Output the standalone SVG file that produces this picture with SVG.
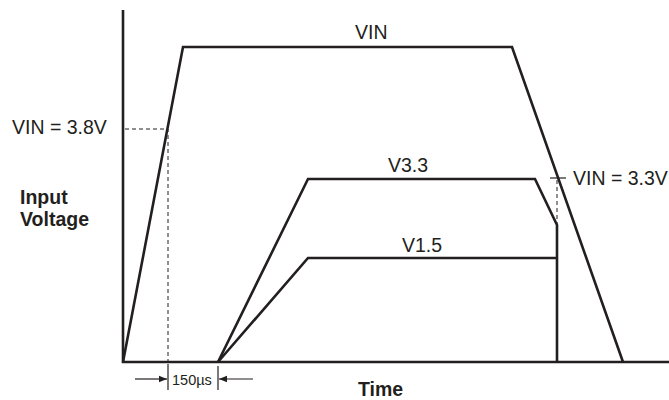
<svg xmlns="http://www.w3.org/2000/svg" width="669" height="400" viewBox="0 0 669 400">
<defs>
<style>
.ln{fill:none;stroke:#231f20;stroke-width:2.6;stroke-linejoin:miter}
.ds{fill:none;stroke:#231f20;stroke-width:1;stroke-dasharray:4,3}
.th{fill:none;stroke:#231f20;stroke-width:1.2}
.t{font-family:"Liberation Sans",Arial,sans-serif;font-size:19.5px;fill:#231f20}
.b{font-weight:bold}
.s{font-size:14.5px}
</style>
<marker id="ah" viewBox="0 0 10 10" refX="10" refY="5" markerWidth="11" markerHeight="8" markerUnits="userSpaceOnUse" orient="auto"><path d="M0,1 L10,5 L0,9 z" fill="#231f20"/></marker>
</defs>
<rect width="669" height="400" fill="#fff"/>
<g id="axes">
<path class="ln" d="M123,10 V362 H669"/>
<text class="t b" x="20" y="204">Input</text>
<text class="t b" x="20" y="226">Voltage</text>
<text class="t b" x="358" y="396">Time</text>
</g>
<g id="connectors">
<path class="ds" d="M125,129 H168 V362"/>
<path class="th" d="M168,364 V390"/>
<path class="th" d="M218,366 V390"/>
<path class="th" d="M135,379 H167" marker-end="url(#ah)"/>
<path class="th" d="M253,379 H219" marker-end="url(#ah)"/>
<path class="ds" d="M557,180 V225"/>
<path class="th" d="M550,178 H566"/>
</g>
<g id="vin">
<path class="ln" d="M123,362 L183,47 H512 L623,362"/>
<text class="t" x="355" y="39">VIN</text>
</g>
<g id="v33">
<path class="ln" d="M218,362 L308,179 H535 L557,225 V362"/>
<text class="t" x="388" y="172">V3.3</text>
</g>
<g id="v15">
<path class="ln" d="M218,362 L308,258 H557"/>
<text class="t" x="402" y="252">V1.5</text>
</g>
<g id="labels">
<text class="t" x="12" y="134">VIN = 3.8V</text>
<text class="t" x="573" y="185">VIN = 3.3V</text>
<text class="t s" x="172" y="385">150µs</text>
</g>
</svg>
